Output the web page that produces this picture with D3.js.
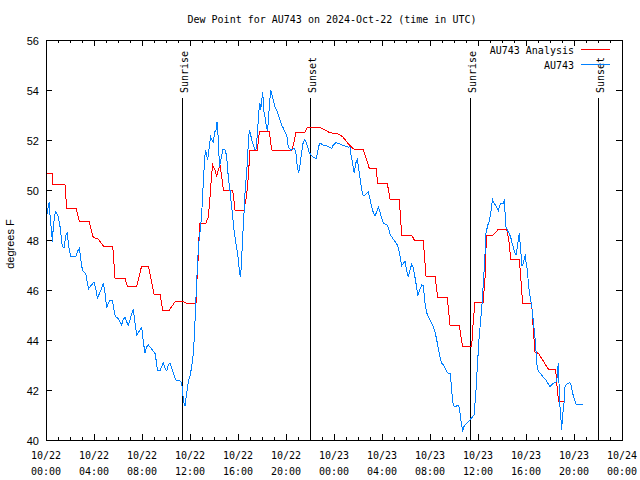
<!DOCTYPE html>
<html><head><meta charset="utf-8">
<script src="https://cdn.jsdelivr.net/npm/d3@7"></script>
<style>
body{margin:0;background:#fff;}
svg{display:block;}
.mono{font-family:"DejaVu Sans Mono",monospace;font-size:10px;}
.sans{font-family:"Liberation Sans",Arial,sans-serif;font-size:11px;}
</style></head>
<body>
<svg id="chart" width="640" height="480"></svg>
<script>
// hours since 2024-10-22 00:00 UTC, dew point (F)
const analysisSeries = [[0,50.67],[0.53,50.67],[0.58,50.24],[1.58,50.24],[1.72,49.27],[2.5,49.27],[2.78,48.76],[3.58,48.76],[3.94,48.1],[4.36,48.04],[4.78,47.76],[5.56,47.76],[5.75,46.47],[6.58,46.47],[6.78,46.16],[7.56,46.16],[7.97,46.96],[8.53,46.96],[9.0,45.84],[9.5,45.84],[9.72,45.2],[10.28,45.2],[10.75,45.53],[11.44,45.53],[11.72,45.47],[12.5,45.47],[12.58,46.4],[12.67,47.2],[12.75,48.13],[12.83,48.67],[13.33,48.67],[13.53,48.93],[13.67,49.73],[13.81,50.67],[13.89,51.0],[14.08,50.8],[14.22,50.53],[14.36,50.8],[14.5,51.0],[14.64,50.53],[14.78,50.0],[15.56,50.0],[15.75,49.2],[16.5,49.2],[16.72,49.8],[16.86,50.53],[17.0,51.6],[17.61,51.6],[17.78,52.33],[18.61,52.33],[18.81,51.6],[20.47,51.57],[20.67,51.93],[20.83,52.3],[21.58,52.3],[21.78,52.5],[22.83,52.5],[23.67,52.29],[24.44,52.23],[24.72,52.13],[25.28,51.8],[25.67,51.63],[26.44,51.63],[26.67,51.27],[26.94,50.87],[27.5,50.87],[27.64,50.27],[28.44,50.27],[28.67,49.63],[29.44,49.63],[29.64,48.2],[30.47,48.2],[30.69,48.0],[31.44,48.0],[31.67,46.53],[32.42,46.53],[32.64,45.71],[33.44,45.71],[33.67,44.6],[34.44,44.6],[34.71,43.73],[35.47,43.73],[35.61,44.8],[35.75,45.5],[36.42,45.5],[36.58,46.4],[36.67,47.73],[36.72,48.17],[37.22,48.17],[37.69,48.43],[38.39,48.43],[38.61,47.87],[38.72,47.23],[39.44,47.23],[39.58,46.4],[39.72,45.47],[40.47,45.47],[40.61,44.4],[40.75,43.51],[41.03,43.47],[41.86,42.84],[42.47,42.84],[42.61,42.0],[42.72,41.56],[43.25,41.56]];

const stationSeries = [[0.06,48.87],[0.11,49.2],[0.19,49.33],[0.28,49.53],[0.36,48.73],[0.44,48.47],[0.53,47.93],[0.61,48.53],[0.69,48.87],[0.78,49.13],[0.89,49.07],[1.03,48.93],[1.11,48.67],[1.23,48.4],[1.28,47.93],[1.39,47.73],[1.5,47.67],[1.58,47.93],[1.67,48.2],[1.78,48.33],[1.86,47.87],[1.94,47.6],[2.06,47.36],[2.5,47.36],[2.61,47.53],[2.78,47.67],[2.89,47.27],[2.98,46.93],[3.11,46.73],[3.31,46.67],[3.44,46.29],[3.56,46.05],[3.73,46.17],[3.86,46.24],[4.0,46.33],[4.14,46.07],[4.28,45.67],[4.44,45.84],[4.64,46.07],[4.78,46.27],[4.92,45.87],[5.06,45.27],[5.19,45.47],[5.33,45.6],[5.53,45.6],[5.67,45.2],[5.78,44.93],[5.94,44.91],[6.17,44.73],[6.31,44.6],[6.44,44.83],[6.58,44.91],[6.72,44.73],[6.86,44.6],[7.0,44.8],[7.17,45.09],[7.28,45.23],[7.42,44.67],[7.56,44.2],[7.73,44.33],[7.98,44.51],[8.11,43.93],[8.25,43.47],[8.39,43.73],[8.53,43.8],[8.81,43.64],[9.08,43.47],[9.22,43.07],[9.28,42.77],[9.5,42.77],[9.64,42.93],[9.78,43.09],[9.92,42.87],[10.06,42.77],[10.19,43.0],[10.33,43.09],[10.47,42.87],[10.61,42.67],[10.75,42.47],[10.89,42.37],[11.17,42.37],[11.31,42.27],[11.39,41.87],[11.5,41.47],[11.58,41.36],[11.72,41.87],[11.86,42.33],[12.0,42.56],[12.14,42.93],[12.28,43.47],[12.36,44.13],[12.48,45.47],[12.56,46.4],[12.61,46.8],[12.69,47.6],[12.78,48.13],[12.89,48.53],[12.97,49.07],[13.06,49.73],[13.11,50.4],[13.19,50.93],[13.28,51.6],[13.39,51.4],[13.47,51.2],[13.56,51.53],[13.64,51.87],[13.72,52.13],[13.83,52.0],[13.94,51.93],[14.06,52.33],[14.17,52.4],[14.25,52.73],[14.33,52.27],[14.39,51.6],[14.47,50.93],[14.56,51.2],[14.64,51.33],[14.72,51.6],[14.83,51.63],[14.94,51.6],[15.06,51.33],[15.14,50.8],[15.22,50.4],[15.33,50.0],[15.44,49.47],[15.56,48.93],[15.67,48.4],[15.83,47.87],[15.97,47.47],[16.08,46.93],[16.19,46.53],[16.28,46.93],[16.36,47.87],[16.44,48.53],[16.53,49.33],[16.61,50.13],[16.72,50.67],[16.83,51.6],[16.94,52.4],[17.06,52.2],[17.14,52.0],[17.28,51.8],[17.42,51.6],[17.53,51.67],[17.64,52.47],[17.75,53.2],[17.83,53.47],[17.89,53.2],[17.97,53.53],[18.06,53.93],[18.14,53.2],[18.25,52.93],[18.39,52.47],[18.47,52.4],[18.61,53.33],[18.72,54.0],[18.83,53.8],[18.94,53.6],[19.08,53.33],[19.22,53.2],[19.36,53.0],[19.5,52.8],[19.64,52.6],[19.78,52.47],[19.92,52.33],[20.06,52.2],[20.19,51.73],[20.39,51.6],[20.69,51.67],[20.83,51.47],[20.94,50.93],[21.06,50.67],[21.17,51.0],[21.31,51.53],[21.44,51.93],[21.56,52.0],[21.67,51.93],[21.81,51.7],[21.94,51.5],[22.14,51.36],[22.33,51.3],[22.5,51.25],[22.61,51.45],[22.72,51.75],[22.83,51.87],[23.11,51.8],[23.39,51.76],[23.67,51.71],[23.81,51.67],[23.94,51.8],[24.14,51.89],[24.36,51.87],[24.64,51.8],[24.92,51.76],[25.19,51.71],[25.33,51.73],[25.39,51.47],[25.5,51.2],[25.61,50.87],[25.69,50.67],[25.81,51.07],[25.94,51.23],[26.03,50.96],[26.11,50.67],[26.25,50.2],[26.39,49.8],[26.5,49.76],[26.67,49.84],[26.86,49.93],[27.0,49.63],[27.14,49.33],[27.28,49.09],[27.42,48.96],[27.56,49.13],[27.69,49.31],[27.83,49.13],[27.97,48.87],[28.11,48.67],[28.39,48.62],[28.53,48.5],[28.67,48.23],[28.94,48.03],[29.22,47.85],[29.36,47.7],[29.5,47.37],[29.64,46.98],[29.78,47.07],[29.92,47.16],[30.06,46.77],[30.19,46.52],[30.33,46.8],[30.47,47.02],[30.61,46.9],[30.75,46.5],[30.89,46.1],[30.97,45.78],[31.17,46.03],[31.31,46.2],[31.44,46.17],[31.58,45.5],[31.72,45.1],[31.86,44.93],[32.0,44.8],[32.14,44.67],[32.28,44.53],[32.42,44.33],[32.56,44.0],[32.69,43.67],[32.83,43.33],[32.97,43.07],[33.11,43.0],[33.25,42.87],[33.39,42.73],[33.53,42.67],[33.67,42.67],[33.75,42.33],[33.89,41.53],[34.0,41.36],[34.22,41.36],[34.39,41.4],[34.5,41.1],[34.63,40.6],[34.72,40.38],[34.83,40.53],[35.0,40.65],[35.19,40.73],[35.33,40.8],[35.47,40.89],[35.67,41.0],[35.81,41.8],[35.94,42.9],[36.08,44.0],[36.22,44.8],[36.33,45.4],[36.46,46.4],[36.56,47.2],[36.67,48.3],[36.86,48.67],[36.94,48.73],[37.06,49.07],[37.14,49.4],[37.22,49.6],[37.33,49.47],[37.47,49.4],[37.61,49.27],[37.69,49.16],[37.78,49.33],[37.89,49.47],[38.06,49.44],[38.19,49.56],[38.25,49.13],[38.33,48.53],[38.44,48.4],[38.58,48.27],[38.72,48.13],[38.81,47.93],[38.89,47.8],[39.03,47.53],[39.17,47.4],[39.28,47.73],[39.36,48.03],[39.44,48.27],[39.5,47.93],[39.58,47.47],[39.67,46.96],[39.78,47.09],[39.86,47.27],[39.94,47.36],[40.0,47.13],[40.11,46.8],[40.19,46.33],[40.28,45.93],[40.39,45.6],[40.47,45.4],[40.53,45.13],[40.61,44.73],[40.72,44.27],[40.83,43.6],[40.94,42.87],[41.08,42.73],[41.25,42.63],[41.44,42.51],[41.67,42.4],[41.86,42.24],[42.0,42.13],[42.14,42.2],[42.28,42.27],[42.42,42.31],[42.56,42.33],[42.61,42.67],[42.69,43.07],[42.75,42.27],[42.83,41.33],[42.92,40.8],[42.97,40.4],[43.06,41.07],[43.14,41.27],[43.25,42.13],[43.39,42.24],[43.53,42.27],[43.67,42.29],[43.75,42.2],[43.89,41.87],[44.03,41.63],[44.17,41.44],[44.72,41.43]];

const sunEvents = [[11.33,"Sunrise"],[22.0,"Sunset"],[35.33,"Sunrise"],[46.0,"Sunset"]];
const yTickValues = [40,42,44,46,48,50,52,54,56];
const seriesNames = ["AU743 Analysis","AU743"];
const seriesColors = ["#ff0000","#0080ff"];
const titleText = "Dew Point for AU743 on 2024-Oct-22 (time in UTC)";
const yLabelText = "degrees F";

const t0 = Date.UTC(2024,9,22,0,0);
const toDate = h => new Date(t0 + h*3600000);

const margin = {left:46, right:18, top:40, bottom:40};
const W = 640, H = 480;
const x = d3.scaleUtc().domain([toDate(0), toDate(48)]).range([margin.left, W-margin.right]);
const y = d3.scaleLinear().domain([40,56]).range([H-margin.bottom, margin.top]);

const svg = d3.select("#chart");
const x0 = margin.left, x1 = W-margin.right, y0 = H-margin.bottom, y1 = margin.top;

// title
svg.append("text").attr("class","mono").attr("x",332).attr("y",23).attr("text-anchor","middle").text(titleText);

// y label
svg.append("text").attr("class","sans").attr("transform",`translate(14,${(y0+y1)/2+4}) rotate(-90)`)
  .attr("text-anchor","middle").text(yLabelText);

const g = svg.append("g");
const majorX = x.ticks(d3.utcHour.every(4));
const minorX = x.ticks(d3.utcHour.every(1));

// ticks (inward) on all four sides
minorX.forEach(d=>{
  const px = Math.round(x(d))+0.5;
  const big = majorX.some(m=>+m===+d);
  const len = big?6:3;
  g.append("line").attr("x1",px).attr("x2",px).attr("y1",y0).attr("y2",y0-len).attr("stroke","#000");
  g.append("line").attr("x1",px).attr("x2",px).attr("y1",y1).attr("y2",y1+len).attr("stroke","#000");
});
yTickValues.forEach(v=>{
  const py = Math.round(y(v))+0.5;
  g.append("line").attr("x1",x0).attr("x2",x0+6).attr("y1",py).attr("y2",py).attr("stroke","#000");
  g.append("line").attr("x1",x1).attr("x2",x1-6).attr("y1",py).attr("y2",py).attr("stroke","#000");
  svg.append("text").attr("class","sans").attr("x",x0-7).attr("y",py+4).attr("text-anchor","end").text(v);
});
const fmtD = d3.utcFormat("%m/%d"), fmtT = d3.utcFormat("%H:%M");
majorX.forEach(d=>{
  const px = x(d);
  const t = svg.append("text").attr("class","mono").attr("text-anchor","middle");
  t.append("tspan").attr("x",px).attr("y",459).text(fmtD(d));
  t.append("tspan").attr("x",px).attr("y",475).text(fmtT(d));
});

// sun lines
sunEvents.forEach(([h,label])=>{
  const px = Math.round(x(toDate(h)))+0.5;
  svg.append("line").attr("x1",px).attr("x2",px).attr("y1",98).attr("y2",y0).attr("stroke","#000");
  svg.append("text").attr("class","mono").attr("transform",`translate(${px+5},93) rotate(-90)`)
    .attr("text-anchor","start").text(label);
});

const line = d3.line().x(d=>x(toDate(d[0]))).y(d=>y(d[1]));
svg.append("path").datum(analysisSeries).attr("d",line).attr("fill","none").attr("stroke",seriesColors[0]).attr("stroke-width",1).attr("shape-rendering","crispEdges");
svg.append("path").datum(stationSeries).attr("d",line).attr("fill","none").attr("stroke",seriesColors[1]).attr("stroke-width",1).attr("shape-rendering","crispEdges");

// frame
svg.append("rect").attr("x",x0+0.5).attr("y",y1+0.5).attr("width",x1-x0).attr("height",y0-y1).attr("fill","none").attr("stroke","#000");

// legend
seriesNames.forEach((n,i)=>{
  const ly = 50 + i*15;
  svg.append("text").attr("class","mono").attr("x",574).attr("y",ly+4).attr("text-anchor","end").text(n);
  svg.append("line").attr("x1",581).attr("x2",610).attr("y1",ly-0.5).attr("y2",ly-0.5).attr("stroke",seriesColors[i]).attr("stroke-width",1);
});
</script>
</body></html>
